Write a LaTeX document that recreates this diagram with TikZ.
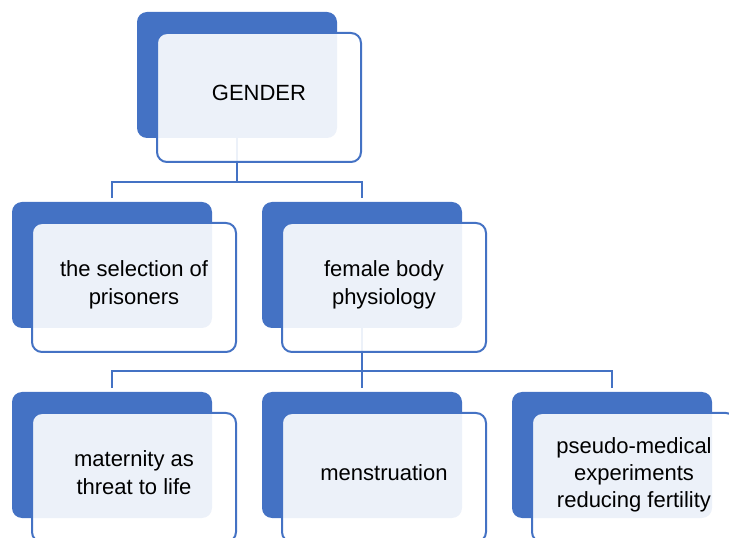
\documentclass[tikz,border=0pt]{standalone}
\usepackage{fontspec}
\setmainfont{Liberation Sans}
\usetikzlibrary{positioning}
\definecolor{accent}{RGB}{68,114,196}

\begin{document}
\begin{tikzpicture}[
    x=0.75pt, y=-0.75pt,
    back/.style={fill=accent, rounded corners=7.5pt, minimum width=150pt, minimum height=94.5pt, outer sep=0pt},
    front/.style={draw=accent, line width=1.5pt, fill=white, fill opacity=0.9, text opacity=1, rounded corners=7.5pt, minimum width=153pt, minimum height=96.75pt, align=center, text depth=7.5pt, font=\fontsize{16.5}{20.5}\selectfont},
    link/.style={draw=accent, line width=1.5pt}
]
\useasboundingbox (0,0) rectangle (729,538);
\clip (0,0) rectangle (729,538);

% Back panels
\node[back] (genderbg) at (237,75) {};
\node[back] (selectionbg) at (112,265) {};
\node[back, right=37.5pt of selectionbg] (physiologybg) {};
\node[back] (maternitybg) at (112,455) {};
\node[back, right=37.5pt of maternitybg] (menstruationbg) {};
\node[back, right=37.5pt of menstruationbg] (experimentsbg) {};

% Connectors
\draw[link] (genderbg.south) -- ++(0,44) coordinate (fork1) -| ([yshift=3pt]selectionbg.north);
\draw[link] (fork1) -| ([yshift=3pt]physiologybg.north);

\draw[link] (physiologybg.south) -- ++(0,43) coordinate (fork2) -| ([yshift=3pt]maternitybg.north);
\draw[link] (fork2) -- ([yshift=3pt]menstruationbg.north);
\draw[link] (fork2) -| ([yshift=3pt]experimentsbg.north);

% Front boxes with text
\node[front] (gender) at ([shift={(22,22.5)}]genderbg.center) {GENDER};
\node[front] (selection) at ([shift={(22,22.5)}]selectionbg.center) {the selection of\\prisoners};
\node[front] (physiology) at ([shift={(22,22.5)}]physiologybg.center) {female body\\physiology};
\node[front] (maternity) at ([shift={(22,22.5)}]maternitybg.center) {maternity as\\threat to life};
\node[front] (menstruation) at ([shift={(22,22.5)}]menstruationbg.center) {menstruation};
\node[front] (experiments) at ([shift={(22,22.5)}]experimentsbg.center) {pseudo-medical\\experiments\\reducing fertility};

\end{tikzpicture}
\end{document}
